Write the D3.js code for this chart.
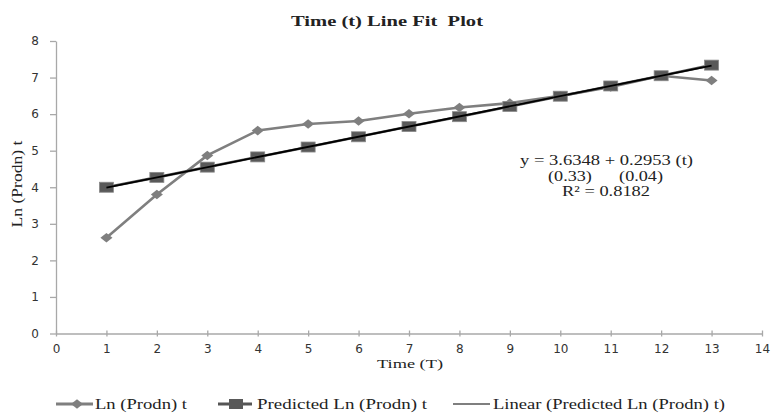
<!DOCTYPE html>
<html>
<head>
<meta charset="utf-8">
<script src="https://cdn.jsdelivr.net/npm/d3@7"></script>
<style>
    body { margin: 0; background: #fff; }
    .serif { font-family: "Liberation Serif", "Times New Roman", serif; fill: #222; white-space: pre; }
    .tickText { font-family: "DejaVu Sans", Verdana, sans-serif; font-size: 12px; fill: #333; }
</style>
</head>
<body>
<div id="chart"></div>
<script>
// values
var timeT = [1, 2, 3, 4, 5, 6, 7, 8, 9, 10, 11, 12, 13];
var lnProdn = [2.62, 3.8, 4.87, 5.55, 5.73, 5.81, 6.01, 6.18, 6.3, 6.5, 6.74, 7.05, 6.92];
var predicted = [4.0, 4.27, 4.55, 4.83, 5.1, 5.38, 5.66, 5.93, 6.21, 6.49, 6.77, 7.05, 7.34];
var xTicks = [0, 1, 2, 3, 4, 5, 6, 7, 8, 9, 10, 11, 12, 13, 14];
var yTicks = [0, 1, 2, 3, 4, 5, 6, 7, 8];
var eqLines = ["y = 3.6348 + 0.2953 (t)", "(0.33)      (0.04)", "R² = 0.8182"];
var legendLabels = ["Ln (Prodn) t", "Predicted Ln (Prodn) t", "Linear (Predicted Ln (Prodn) t)"];

var width = 771, height = 415;
var margin = {top: 41, left: 56, right: 9, bottom: 82};

var svg = d3.select("#chart").append("svg")
    .attr("width", width)
    .attr("height", height);

var x = d3.scaleLinear().domain([0, 14]).range([margin.left, width - margin.right]);
var y = d3.scaleLinear().domain([0, 8]).range([height - margin.bottom + 0.5, margin.top]);

//axes
var xAxis = svg.append("g")
    .attr("transform", "translate(0," + y(0) + ")")
    .call(d3.axisBottom(x).tickValues(xTicks).tickSize(4).tickPadding(7).tickSizeOuter(0));
xAxis.selectAll("line").attr("y1", -3).attr("y2", 3);

var yAxis = svg.append("g")
    .attr("transform", "translate(" + x(0) + ",0)")
    .call(d3.axisLeft(y).tickValues(yTicks).tickSize(6).tickPadding(11).tickSizeOuter(0));

svg.selectAll(".domain, .tick line").attr("stroke", "#a8a8a8").attr("stroke-width", 1.3);
svg.selectAll(".tick text").attr("class", "tickText").attr("font-size", null).attr("font-family", null);

//linear trend of the predicted series (least squares)
var n = timeT.length;
var mx = d3.mean(timeT), my = d3.mean(predicted);
var slope = d3.sum(timeT, function(t, i) { return (t - mx) * (predicted[i] - my); }) /
            d3.sum(timeT, function(t) { return (t - mx) * (t - mx); });
var icpt = my - slope * mx;

var line = d3.line()
    .x(function(d) { return x(d[0]); })
    .y(function(d) { return y(d[1]); });

var actual = timeT.map(function(t, i) { return [t, lnProdn[i]]; });
var pred = timeT.map(function(t, i) { return [t, predicted[i]]; });

svg.append("path")
    .datum(actual)
    .attr("d", line)
    .attr("fill", "none")
    .attr("stroke", "#7f7f7f")
    .attr("stroke-width", 2.6);

svg.selectAll(".diamond")
    .data(actual)
    .enter()
    .append("path")
    .attr("class", "diamond")
    .attr("d", "M0,-4.8L6,0L0,4.8L-6,0Z")
    .attr("transform", function(d) { return "translate(" + x(d[0]) + "," + y(d[1]) + ")"; })
    .attr("fill", "#7f7f7f");

svg.append("path")
    .datum(pred)
    .attr("d", line)
    .attr("fill", "none")
    .attr("stroke", "#555")
    .attr("stroke-width", 2.6);

svg.selectAll(".square")
    .data(pred)
    .enter()
    .append("rect")
    .attr("class", "square")
    .attr("x", function(d) { return x(d[0]) - 7; })
    .attr("y", function(d) { return y(d[1]) - 5; })
    .attr("width", 14)
    .attr("height", 10)
    .attr("fill", "#595959")
    .attr("stroke", "#8a8a8a")
    .attr("stroke-width", 0.8);

svg.append("path")
    .datum([[timeT[0], icpt + slope * timeT[0]], [timeT[n - 1], icpt + slope * timeT[n - 1]]])
    .attr("d", line)
    .attr("stroke", "#000")
    .attr("stroke-width", 1.8);

//texts
svg.append("text")
    .attr("class", "serif")
    .attr("x", 387).attr("y", 26)
    .attr("text-anchor", "middle")
    .attr("font-size", 15).attr("font-weight", "bold")
    .attr("textLength", 192).attr("lengthAdjust", "spacingAndGlyphs")
    .text("Time (t) Line Fit  Plot");

svg.append("text")
    .attr("class", "serif")
    .attr("x", 410).attr("y", 368)
    .attr("text-anchor", "middle")
    .attr("font-size", 13)
    .attr("textLength", 66).attr("lengthAdjust", "spacingAndGlyphs")
    .text("Time (T)");

svg.append("text")
    .attr("class", "serif")
    .attr("transform", "translate(22,184) rotate(-90)")
    .attr("text-anchor", "middle")
    .attr("font-size", 14)
    .attr("textLength", 87).attr("lengthAdjust", "spacingAndGlyphs")
    .text("Ln (Prodn) t");

var eqX = [520, 548, 562], eqW = [173, 115, 88];
svg.selectAll(".eq")
    .data(eqLines)
    .enter()
    .append("text")
    .attr("class", "serif eq")
    .attr("x", function(d, i) { return eqX[i]; })
    .attr("y", function(d, i) { return 165 + i * 15.5; })
    .attr("font-size", 14)
    .attr("textLength", function(d, i) { return eqW[i]; })
    .attr("lengthAdjust", "spacingAndGlyphs")
    .text(function(d) { return d; });

//legend
var legY = 404;
var legLine = [[56, 93], [218, 252], [453, 490]];
var legText = [[95, 92], [257, 170], [493, 232]];

svg.selectAll(".legLine")
    .data(legLine)
    .enter()
    .append("line")
    .attr("class", "legLine")
    .attr("x1", function(d) { return d[0]; })
    .attr("x2", function(d) { return d[1]; })
    .attr("y1", legY).attr("y2", legY)
    .attr("stroke", function(d, i) { return i == 0 ? "#7f7f7f" : (i == 1 ? "#555" : "#000"); })
    .attr("stroke-width", function(d, i) { return i == 2 ? 1.2 : 3; });

svg.append("path")
    .attr("d", "M0,-4.8L6,0L0,4.8L-6,0Z")
    .attr("transform", "translate(77," + legY + ")")
    .attr("fill", "#7f7f7f");

svg.append("rect")
    .attr("x", 229).attr("y", legY - 5)
    .attr("width", 14).attr("height", 10)
    .attr("fill", "#595959");

svg.selectAll(".legText")
    .data(legendLabels)
    .enter()
    .append("text")
    .attr("class", "serif legText")
    .attr("x", function(d, i) { return legText[i][0]; })
    .attr("y", legY + 5)
    .attr("font-size", 14)
    .attr("textLength", function(d, i) { return legText[i][1]; })
    .attr("lengthAdjust", "spacingAndGlyphs")
    .text(function(d) { return d; });
</script>
</body>
</html>
